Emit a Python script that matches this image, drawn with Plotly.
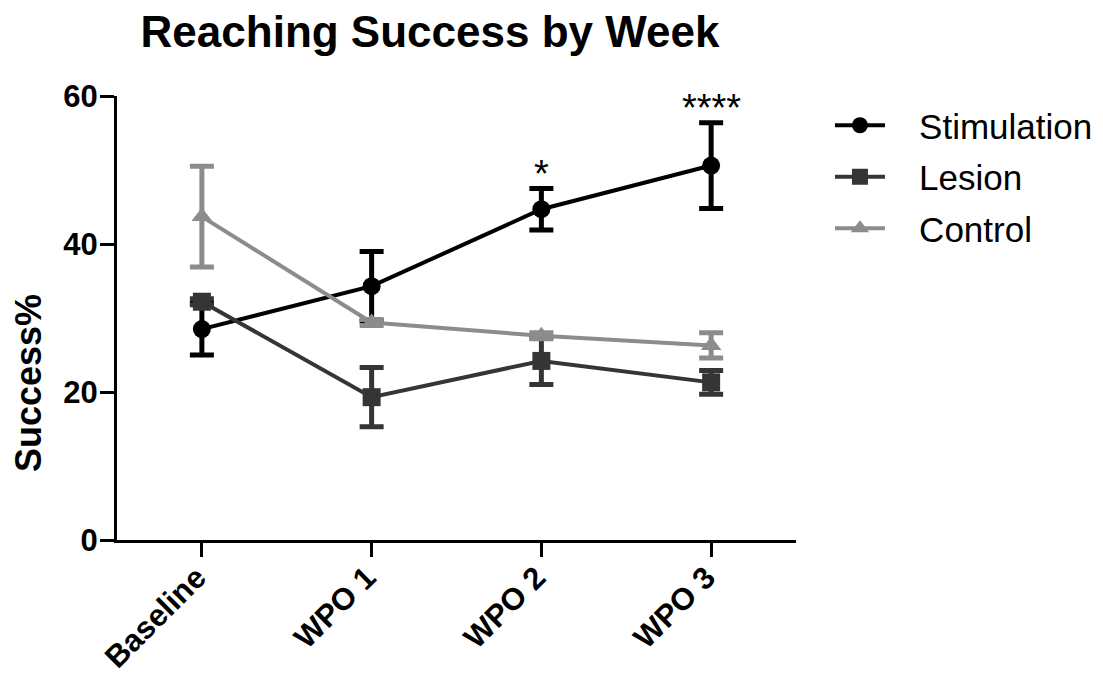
import plotly.graph_objects as go

categories = ["Baseline", "WPO 1", "WPO 2", "WPO 3"]

stim_mean = [28.5, 34.3, 44.7, 50.6]
stim_err = [3.5, 4.7, 2.8, 5.8]

lesion_mean = [32.2, 19.3, 24.2, 21.3]
lesion_err = [0.4, 4.0, 3.2, 1.6]

control_mean = [43.7, 29.4, 27.6, 26.3]
control_err = [6.8, 0.4, 0.4, 1.7]

y_ticks = [0, 20, 40, 60]

sig_labels = [("WPO 2", 49.5, "*"), ("WPO 3", 58.4, "****")]

FONT = "Arial, Liberation Sans, Helvetica, sans-serif"
NB = "\u00a0\u00a0\u00a0"

series = [
    ("Stimulation", stim_mean, stim_err, "#000000", "circle"),
    ("Lesion", lesion_mean, lesion_err, "#353535", "square"),
    ("Control", control_mean, control_err, "#8c8c8c", "triangle-up"),
]

fig = go.Figure()
for i, (name, m, e, col, sym) in enumerate(series):
    fig.add_trace(go.Scatter(
        x=categories, y=m, name=NB + name, mode="lines+markers",
        line=dict(color=col, width=4),
        marker=dict(color=col, size=18, symbol=sym),
        error_y=dict(type="data", array=e, visible=True, color=col,
                     thickness=5, width=12),
        legendgroup=name,
    ))

for cat, yv, txt in sig_labels:
    fig.add_annotation(x=cat, y=yv, text=txt, showarrow=False,
                       font=dict(family=FONT, size=38, color="black"),
                       xanchor="center", yanchor="middle")

# page has an 8px body margin; compensated in figure size and margins
W, H = 1087, 669
L, T = 109, 88
PW, PH = 679, 444

fig.add_annotation(xref="paper", yref="paper", x=(20 - L) / PW, y=(532 - 375) / PH,
                   text="<b>Success%</b>", textangle=-90, showarrow=False,
                   font=dict(family=FONT, size=36, color="black"),
                   xanchor="center", yanchor="middle")

fig.update_layout(
    width=W, height=H,
    margin=dict(l=L, r=W - L - PW, t=T, b=H - T - PH, autoexpand=False),
    paper_bgcolor="white", plot_bgcolor="white",
    title=dict(text="<b>Reaching Success by Week</b>", x=422 / W, xanchor="center",
               xref="container", y=1 - 24 / H, yanchor="middle", yref="container",
               font=dict(family=FONT, size=44, color="black")),
    font=dict(family=FONT, color="black"),
    showlegend=True,
    legend=dict(x=1.05, xanchor="left", y=1.0, yanchor="top",
                xref="paper", yref="paper",
                font=dict(family=FONT, size=35, color="black"),
                tracegroupgap=3, itemwidth=50, bgcolor="rgba(0,0,0,0)"),
)

fig.update_xaxes(
    type="category", range=[-0.5, 3.5], automargin=False,
    showline=True, linecolor="black", linewidth=3,
    ticks="outside", ticklen=14, tickwidth=3, tickcolor="black",
    tickangle=-45, showgrid=False, zeroline=False,
    ticklabelstandoff=-10, ticklabelshift=-5,
    tickfont=dict(family=FONT, size=31, color="black", weight="bold"),
)
fig.update_yaxes(
    range=[0, 60], tickvals=y_ticks, automargin=False,
    showline=True, linecolor="black", linewidth=3,
    ticks="outside", ticklen=14, tickwidth=3, tickcolor="black",
    ticklabelstandoff=-4,
    showgrid=False, zeroline=False,
    tickfont=dict(family=FONT, size=31, color="black", weight="bold"),
)

fig.write_html("out.html")
